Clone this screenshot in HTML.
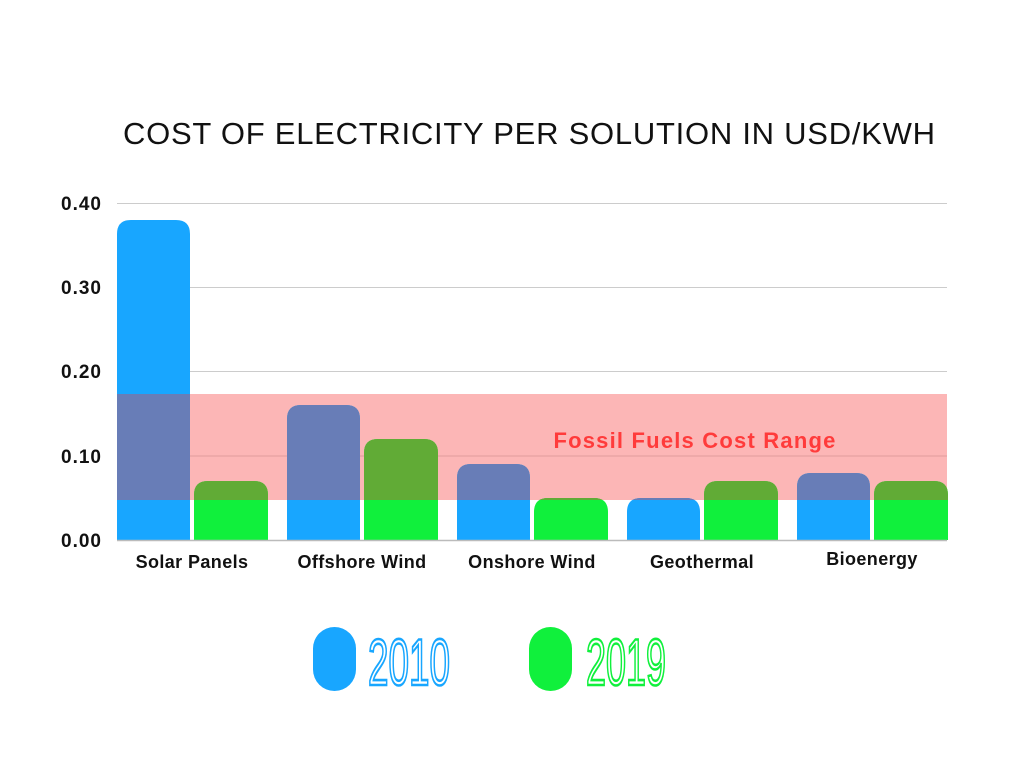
<!DOCTYPE html>
<html><head><meta charset="utf-8"><style>body{margin:0;background:#fff}svg{display:block}</style></head>
<body>
<svg width="1024" height="768" viewBox="0 0 1024 768" xmlns="http://www.w3.org/2000/svg" font-family="Liberation Sans, sans-serif">
<defs>
<clipPath id="cb">
<path d="M117,540V234Q117,220 131,220H176Q190,220 190,234V540Z"/>
<path d="M287,540V419Q287,405 301,405H346Q360,405 360,419V540Z"/>
<path d="M457,540V478Q457,464 471,464H516Q530,464 530,478V540Z"/>
<path d="M627,540V512Q627,498 641,498H686Q700,498 700,512V540Z"/>
<path d="M797,540V487Q797,473 811,473H856Q870,473 870,487V540Z"/>
</clipPath>
<clipPath id="cg">
<path d="M194,540V495Q194,481 208,481H254Q268,481 268,495V540Z"/>
<path d="M364,540V453Q364,439 378,439H424Q438,439 438,453V540Z"/>
<path d="M534,540V512Q534,498 548,498H594Q608,498 608,512V540Z"/>
<path d="M704,540V495Q704,481 718,481H764Q778,481 778,495V540Z"/>
<path d="M874,540V495Q874,481 888,481H934Q948,481 948,495V540Z"/>
</clipPath>
</defs>
<text x="529" y="144" text-anchor="middle" font-size="31" fill="#111" textLength="812" lengthAdjust="spacing">COST OF ELECTRICITY PER SOLUTION IN USD/KWH</text>
<rect x="117" y="394" width="830" height="106" fill="#fcb6b6"/>
<g stroke="#ccc" stroke-width="1">
<line x1="117" y1="203.5" x2="947" y2="203.5"/>
<line x1="117" y1="287.5" x2="947" y2="287.5"/>
<line x1="117" y1="371.5" x2="947" y2="371.5"/>
<line x1="117" y1="456" x2="947" y2="456" stroke="#e09c9c"/>
</g>
<g clip-path="url(#cb)"><rect x="0" y="0" width="1024" height="540" fill="#18a6ff"/><rect x="0" y="394" width="1024" height="106" fill="#687db7"/></g>
<g clip-path="url(#cg)"><rect x="0" y="0" width="1024" height="540" fill="#10f03c"/><rect x="0" y="394" width="1024" height="106" fill="#61ab36"/></g>
<line x1="117" y1="540.5" x2="947" y2="540.5" stroke="#bbb" stroke-width="1.5"/>
<g font-size="19" font-weight="bold" fill="#111" text-anchor="end" letter-spacing="1">
<text x="102" y="210">0.40</text>
<text x="102" y="294">0.30</text>
<text x="102" y="378">0.20</text>
<text x="102" y="463">0.10</text>
<text x="102" y="547">0.00</text>
</g>
<g font-size="18" font-weight="bold" fill="#111" text-anchor="middle" letter-spacing="0.4">
<text x="192" y="568">Solar Panels</text>
<text x="362" y="568">Offshore Wind</text>
<text x="532" y="568">Onshore Wind</text>
<text x="702" y="568">Geothermal</text>
<text x="872" y="565">Bioenergy</text>
</g>
<text x="695" y="448" text-anchor="middle" font-size="22" font-weight="bold" fill="#ff3b3b" letter-spacing="1.2">Fossil Fuels Cost Range</text>
<rect x="313" y="627" width="43" height="64" rx="21.5" fill="#18a6ff"/>
<rect x="529" y="627" width="43" height="64" rx="21.5" fill="#10f03c"/>
<text x="368" y="685" font-size="66" textLength="82" lengthAdjust="spacingAndGlyphs" fill="#fff" stroke="#18a6ff" stroke-width="2.6">2010</text>
<text x="586" y="685" font-size="66" textLength="80" lengthAdjust="spacingAndGlyphs" fill="#fff" stroke="#10f03c" stroke-width="2.6">2019</text>
</svg>
</body></html>
